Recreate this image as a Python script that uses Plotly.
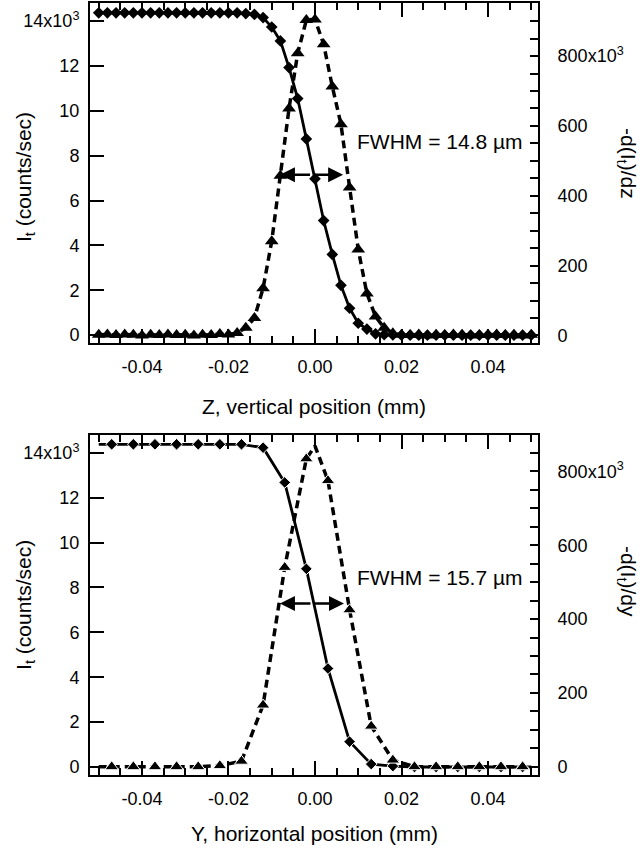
import numpy as np
import plotly.graph_objects as go

# ---------------- data ----------------
# Top panel: Z scan (step 0.002 mm), I_t in units of 10^3 counts/sec, -dI/dz in 10^3
z_pos = [round(-0.050 + 0.002 * i, 3) for i in range(51)]
z_it = [14.37] * 17 + [14.34, 14.30, 14.16, 13.74, 13.12, 11.93, 10.55, 8.75, 6.97,
                       5.11, 3.60, 2.22, 1.20, 0.53, 0.27, 0.06, 0.02, 0.01] + [0.0] * 16
z_deriv = [2, 3, 1, 3, 2, 0, 2, 1, 3, 1, 2, 0, 2, 1, 4, 3, 7,
           22, 50, 135, 270, 457, 650, 808, 903, 905, 834, 713, 605, 424, 246, 120, 54, 22, 6,
           2, 1, 3, 0, 2, 1, 3, 2, 0, 1, 2, 3, 1, 2, 0, 2]

# Bottom panel: Y scan (step 0.005 mm)
y_pos = [-0.050, -0.047, -0.042, -0.037, -0.032, -0.027, -0.022, -0.017, -0.012, -0.007,
         -0.002, 0.003, 0.008, 0.013, 0.018, 0.023, 0.028, 0.033, 0.038, 0.043, 0.048, 0.050]
y_it = [14.38, 14.38, 14.38, 14.38, 14.38, 14.38, 14.38, 14.38, 14.23, 12.68,
        8.83, 4.39, 1.13, 0.13, 0.04, 0.0, 0.0, 0.0, 0.0, 0.0, 0.0, 0.0]
y_it_marked = [False] + [True] * 20 + [False]

y_dpos = [-0.050, -0.047, -0.042, -0.037, -0.032, -0.027, -0.022, -0.017, -0.012, -0.007,
          -0.002, 0.000, 0.003, 0.008, 0.013, 0.018, 0.023, 0.028, 0.033, 0.038, 0.043, 0.048, 0.050]
y_deriv = [0, 0, 0, 0, 0, 0, 3, 15, 167, 540, 834, 869, 775, 425, 110, 18, 0, 0, 0, 0, 0, 0, 0]
y_deriv_marked = [False] + [True] * 10 + [False] + [True] * 10 + [False]

fwhm_z = [-0.0081, 0.0065, 460]   # left end, right end, level (10^3)
fwhm_y = [-0.0081, 0.0067, 442]

x_tickvals = [-0.04, -0.02, 0.0, 0.02, 0.04]
x_ticktext = ["-0.04", "-0.02", "0.00", "0.02", "0.04"]
x_minor = [round(v, 3) for v in np.arange(-0.050, 0.0501, 0.005)]
left_tickvals = [0, 2, 4, 6, 8, 10, 12, 14]
left_ticktext = ["0", "2", "4", "6", "8", "10", "12", "14x10<sup>3</sup>"]
right_tickvals = [0, 200, 400, 600, 800]
right_ticktext = ["0", "200", "400", "600", "800x10<sup>3</sup>"]
right_minor = list(range(0, 951, 50))

# ---------------- figure ----------------
FONT = "Liberation Sans, Arial, Helvetica, sans-serif"
fig = go.Figure()

DIA = 9
TRI = 12
dash_style = "8px,5px"

fig.add_trace(go.Scatter(x=z_pos, y=z_deriv, mode="lines+markers", xaxis="x", yaxis="y2",
                         line=dict(color="black", width=3.5, dash=dash_style),
                         marker=dict(symbol="triangle-up", size=TRI, color="black", opacity=1),
                         showlegend=False))
fig.add_trace(go.Scatter(x=z_pos, y=z_it, mode="lines+markers", xaxis="x", yaxis="y",
                         line=dict(color="black", width=2.8),
                         marker=dict(symbol="diamond", size=DIA, color="black", opacity=1),
                         showlegend=False))

fig.add_trace(go.Scatter(x=y_dpos, y=y_deriv, mode="lines+markers", xaxis="x2", yaxis="y4",
                         line=dict(color="black", width=3.5, dash=dash_style),
                         marker=dict(symbol="triangle-up", color="black", opacity=1,
                                     size=[TRI if m else 0 for m in y_deriv_marked]),
                         showlegend=False))
fig.add_trace(go.Scatter(x=y_pos, y=y_it, mode="lines+markers", xaxis="x2", yaxis="y3",
                         line=dict(color="black", width=2.8),
                         marker=dict(symbol="diamond", color="black", opacity=1,
                                     size=[DIA if m else 0 for m in y_it_marked]),
                         showlegend=False))

xrange = [-0.05202, 0.05156]
top_dom = [0.5594, 1.0]
bot_dom = [0.0, 0.4406]

def xaxis_cfg(anchor):
    return dict(domain=[0, 1], anchor=anchor, range=xrange, showgrid=False, zeroline=False,
                showline=True, linewidth=2, linecolor="black", mirror="ticks",
                ticks="inside", ticklen=14, tickwidth=2, tickcolor="black",
                tickmode="array", tickvals=x_tickvals, ticktext=x_ticktext,
                ticklabelstandoff=6,
                minor=dict(tickmode="array", tickvals=x_minor, ticks="inside",
                           ticklen=7, tickwidth=2, tickcolor="black"),
                tickfont=dict(family=FONT, size=18, color="black"))

def left_cfg(anchor, dom, rng):
    return dict(domain=dom, anchor=anchor, range=rng, showgrid=False, zeroline=False,
                showline=True, linewidth=2, linecolor="black",
                ticks="inside", ticklen=14, tickwidth=2, tickcolor="black",
                tickmode="array", tickvals=left_tickvals, ticktext=left_ticktext,
                ticklabelstandoff=5,
                tickfont=dict(family=FONT, size=18, color="black"))

def right_cfg(anchor, over, rng):
    return dict(overlaying=over, anchor=anchor, side="right", range=rng,
                showgrid=False, zeroline=False,
                showline=True, linewidth=2, linecolor="black",
                ticks="inside", ticklen=8, tickwidth=2, tickcolor="black",
                tickmode="array", tickvals=right_tickvals, ticktext=right_ticktext,
                ticklabelstandoff=14,
                minor=dict(tickmode="array", tickvals=right_minor, ticks="inside",
                           ticklen=8, tickwidth=2, tickcolor="black"),
                tickfont=dict(family=FONT, size=18, color="black"))

annotations = []
title_font = dict(family=FONT, size=21, color="black")

# axis titles
annotations += [
    dict(text="I<sub>t</sub> (counts/sec)", textangle=-90, xref="paper", x=0, xshift=-65,
         yref="y domain", y=0.5, yshift=-4, showarrow=False, font=title_font,
         xanchor="center", yanchor="middle"),
    dict(text="I<sub>t</sub> (counts/sec)", textangle=-90, xref="paper", x=0, xshift=-65,
         yref="y3 domain", y=0.5, yshift=0, showarrow=False, font=title_font,
         xanchor="center", yanchor="middle"),
    dict(text="-d(I<sub>t</sub>)/dz", textangle=90, xref="paper", x=1, xshift=89,
         yref="y domain", y=0.5, yshift=10, showarrow=False, font=title_font,
         xanchor="center", yanchor="middle"),
    dict(text="-d(I<sub>t</sub>)/dy", textangle=90, xref="paper", x=1, xshift=89,
         yref="y3 domain", y=0.5, yshift=24, showarrow=False, font=title_font,
         xanchor="center", yanchor="middle"),
    dict(text="Z, vertical position (mm)", xref="x domain", x=0.5, yref="y domain", y=0,
         yshift=-63, showarrow=False, font=title_font, xanchor="center", yanchor="middle"),
    dict(text="Y, horizontal position (mm)", xref="x2 domain", x=0.5, yref="y3 domain", y=0,
         yshift=-58, showarrow=False, font=title_font, xanchor="center", yanchor="middle"),
]

# FWHM arrows and labels
def fwhm_arrows(xr, yr, f):
    left, right, lvl = f
    mid = (left + right) / 2
    out = []
    for end in (left, right):
        out.append(dict(x=end, y=lvl, ax=mid, ay=lvl, xref=xr, yref=yr, axref=xr, ayref=yr,
                        text="", showarrow=True, arrowhead=2, arrowsize=1.2, arrowwidth=2.5,
                        arrowcolor="black", standoff=0, startstandoff=0))
    return out

annotations += fwhm_arrows("x", "y2", fwhm_z)
annotations += fwhm_arrows("x2", "y4", fwhm_y)
annotations += [
    dict(text="FWHM = 14.8 µm", xref="x", yref="y2", x=0.0486, y=555, xanchor="right",
         yanchor="middle", showarrow=False, font=title_font),
    dict(text="FWHM = 15.7 µm", xref="x2", yref="y4", x=0.0486, y=513, xanchor="right",
         yanchor="middle", showarrow=False, font=title_font),
]

fig.update_layout(
    width=640, height=851,
    margin=dict(l=90, r=102, t=1, b=76),
    paper_bgcolor="white", plot_bgcolor="white",
    font=dict(family=FONT, size=18, color="black"),
    xaxis=xaxis_cfg("y"),
    yaxis=left_cfg("x", top_dom, [-0.356, 14.81]),
    yaxis2=right_cfg("x", "y", [-22, 952]),
    xaxis2=xaxis_cfg("y3"),
    yaxis3=left_cfg("x2", bot_dom, [-0.356, 14.8]),
    yaxis4=right_cfg("x2", "y3", [-22.4, 899]),
    annotations=annotations,
    showlegend=False,
)

fig.write_html("out.html", config={"displayModeBar": False},
               post_script="document.body.style.margin='0px';document.body.style.padding='0px';")
